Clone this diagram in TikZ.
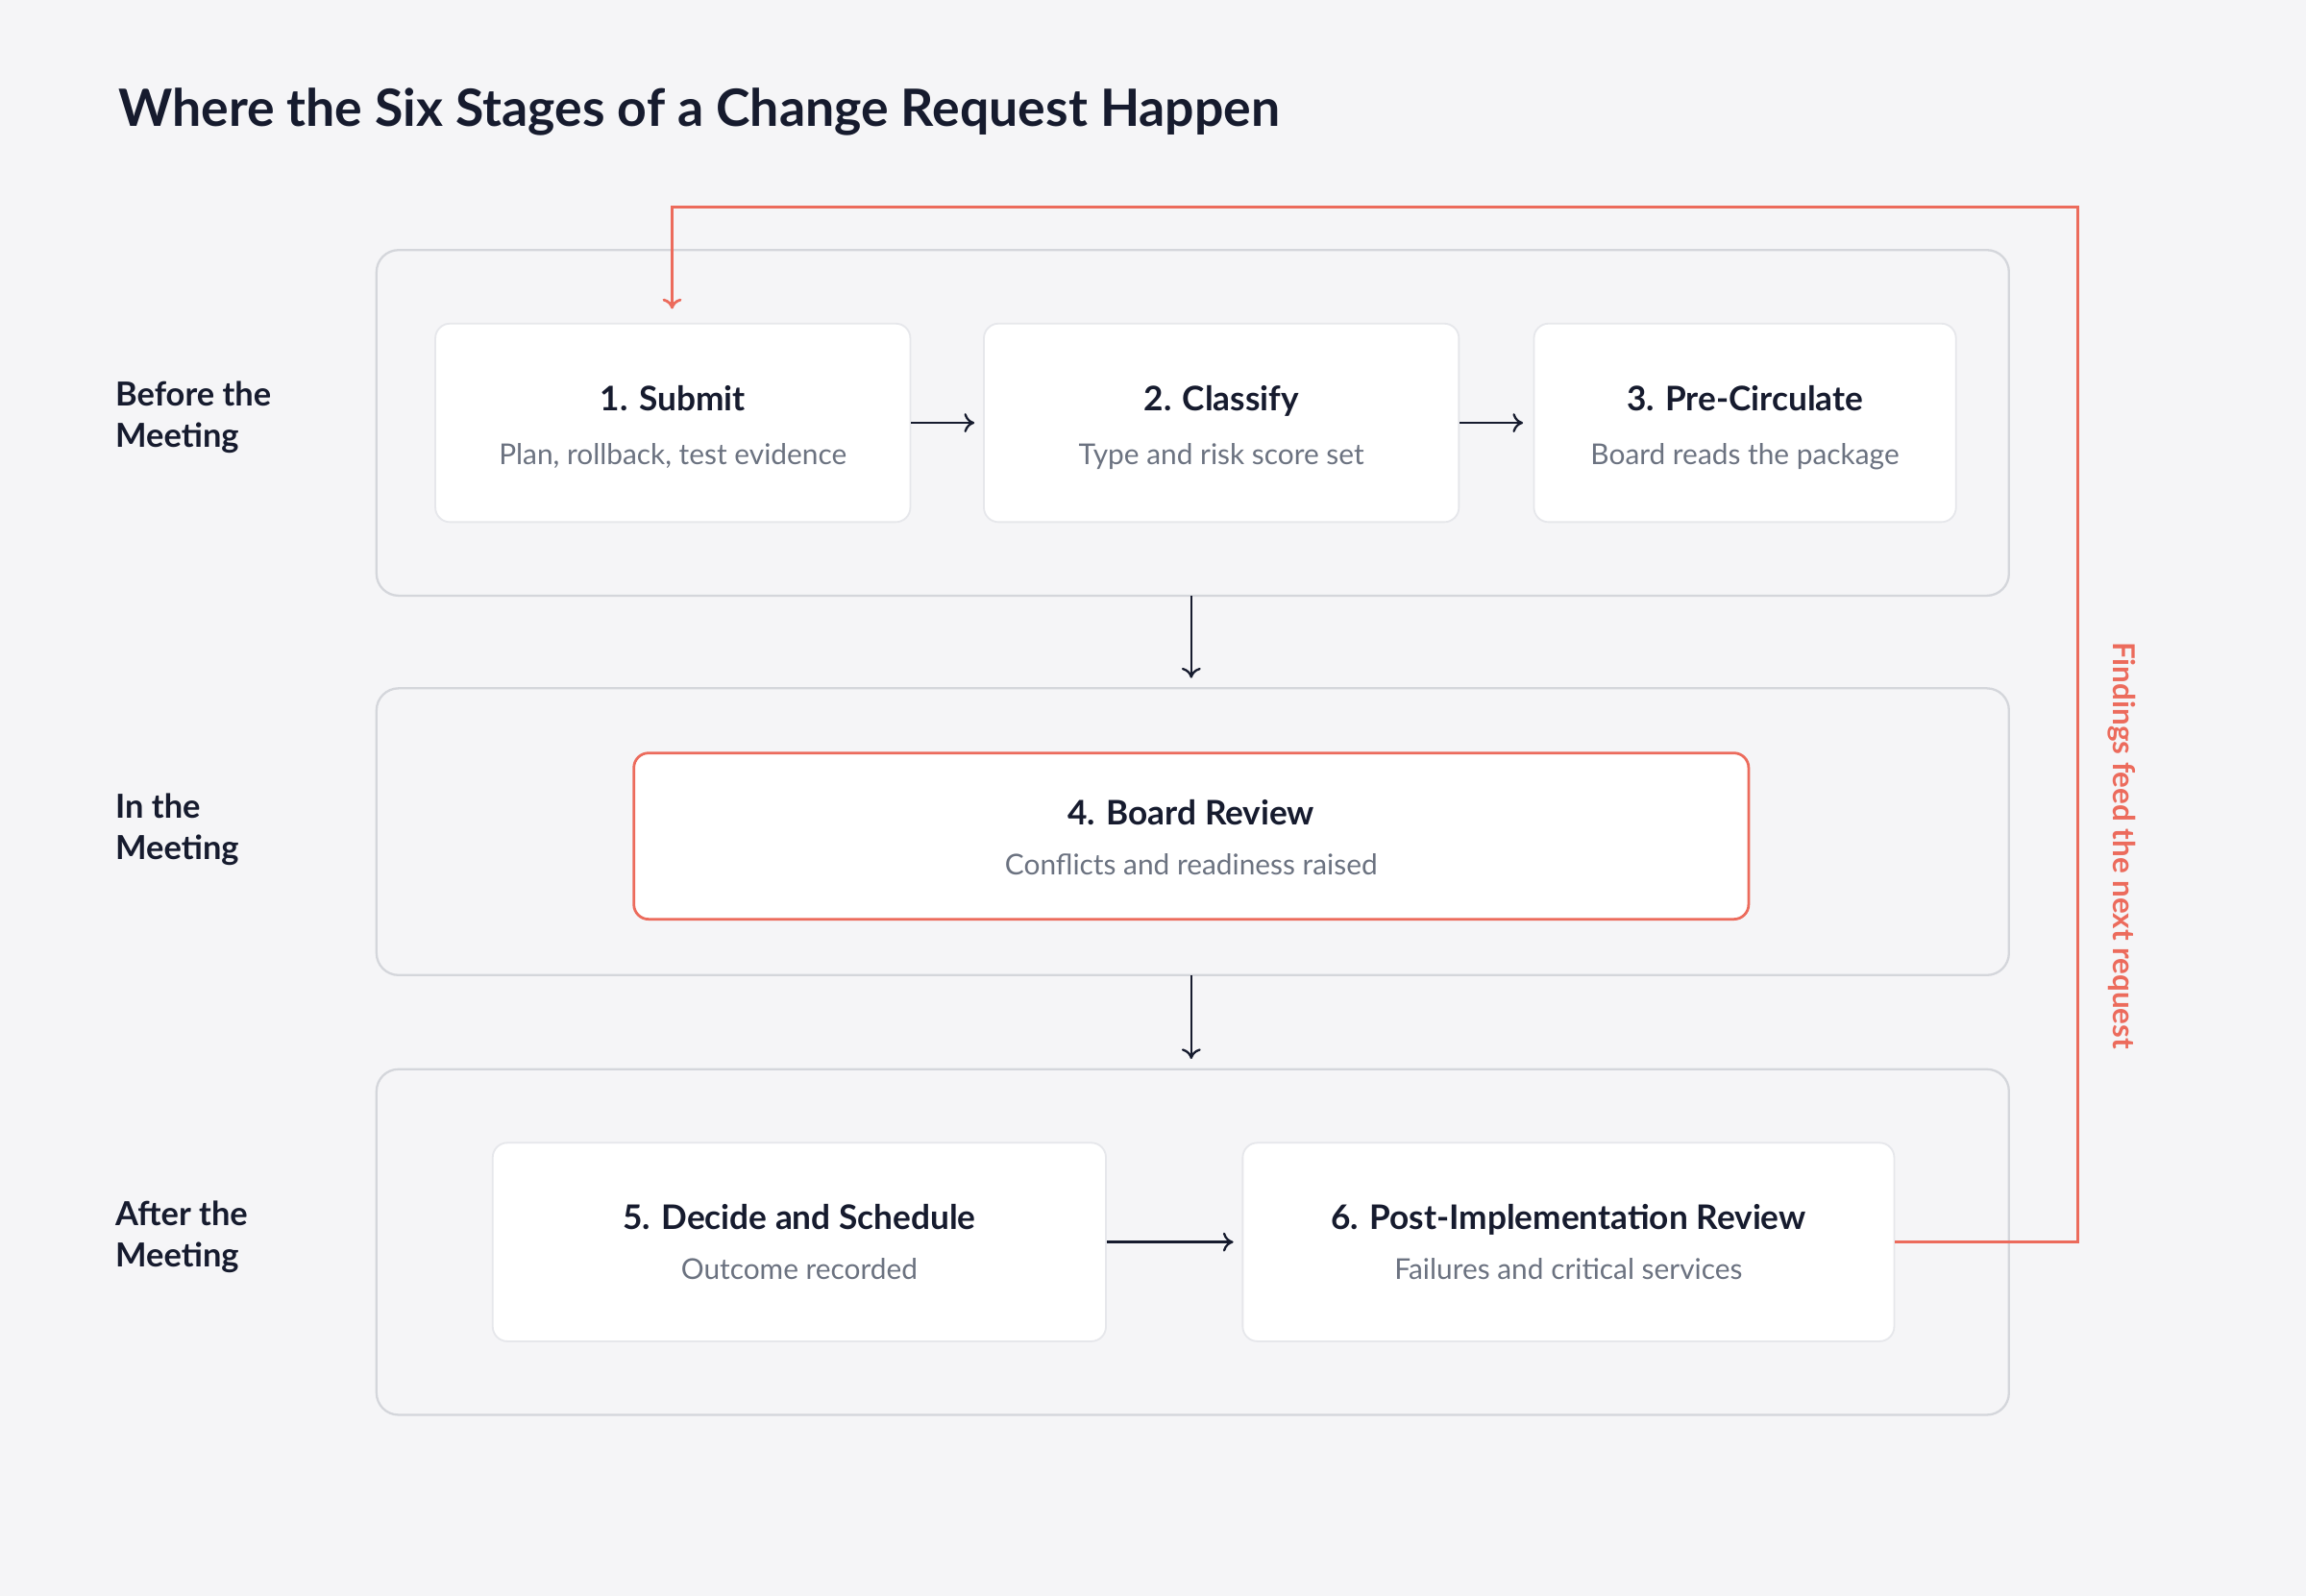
\documentclass[tikz,border=0pt]{standalone}
\usepackage{fontspec}
\setmainfont{Lato}
\usetikzlibrary{positioning,arrows.meta}
\definecolor{bgc}{HTML}{F5F5F7}
\definecolor{lanec}{HTML}{D4D6DB}
\definecolor{boxc}{HTML}{E6E7EB}
\definecolor{ink}{HTML}{161B2E}
\definecolor{sub}{HTML}{6B7280}
\definecolor{coral}{HTML}{EC6B5C}
\tikzset{
  lane/.style={draw=lanec, line width=1.5pt, rounded corners=15pt, fill=bgc},
  stage/.style={draw=boxc, line width=1.2pt, rounded corners=10pt, fill=white},
  hot/.style={draw=coral, line width=1.8pt, rounded corners=10pt, fill=white},
  ttl/.style={font=\fontsize{23}{26}\selectfont\bfseries, text=ink, anchor=base},
  sbt/.style={font=\fontsize{19.5}{22}\selectfont, text=sub, anchor=base},
  lbl/.style={font=\fontsize{22.5}{28}\selectfont\bfseries, text=ink, align=left, anchor=west},
  flow/.style={-{To[length=7pt,width=13pt]}, draw=ink, line width=1.5pt},
  back/.style={-{To[length=7pt,width=13pt]}, draw=coral, line width=1.8pt}
}
\begin{document}
\begin{tikzpicture}[x=1pt, y=-1pt]
    \fill[bgc] (0,0) rectangle (1568,1085);
    \useasboundingbox (0,0) rectangle (1568,1085);
    \node[anchor=base west, font=\fontsize{35}{40}\selectfont\bfseries, text=ink] (title) at (77,86) {Where the Six Stages of a Change Request Happen};

    % swim lanes
    \draw[lane] (256,170) rectangle (1366,405);
    \draw[lane] (256,468) rectangle (1366,663);
    \draw[lane] (256,727) rectangle (1366,962);
    \node[lbl] (before) at (75,284) {Before the\\Meeting};
    \node[lbl] (during) at (75,564) {In the\\Meeting};
    \node[lbl] (after) at (75,841) {After the\\Meeting};
    \coordinate (lane1s) at (810,405);
    \coordinate (lane2n) at (810,461);
    \coordinate (lane2s) at (810,663);
    \coordinate (lane3n) at (810,720);

    % stages
    \node[stage, minimum width=323pt, minimum height=135pt] (submit) at (457.5,287.5) {};
    \node[stage, minimum width=323pt, minimum height=135pt] (classify) at (830.5,287.5) {};
    \node[stage, minimum width=287pt, minimum height=135pt] (precirc) at (1186.5,287.5) {};
    \node[hot, minimum width=758pt, minimum height=113pt] (review) at (810,568.5) {};
    \node[stage, minimum width=417pt, minimum height=135pt] (decide) at (543.5,844.5) {};
    \node[stage, minimum width=443pt, minimum height=135pt] (pir) at (1066.5,844.5) {};

    \node[ttl] at (457.5,279) {1. Submit};
    \node[sbt] at (457.5,316) {Plan, rollback, test evidence};
    \node[ttl] at (830.5,279) {2. Classify};
    \node[sbt] at (830.5,316) {Type and risk score set};
    \node[ttl] at (1186.5,279) {3. Pre-Circulate};
    \node[sbt] at (1186.5,316) {Board reads the package};
    \node[ttl] at (810,561) {4. Board Review};
    \node[sbt] at (810,595) {Conflicts and readiness raised};
    \node[ttl] at (543.5,836) {5. Decide and Schedule};
    \node[sbt] at (543.5,870) {Outcome recorded};
    \node[ttl] at (1066.5,836) {6. Post-Implementation Review};
    \node[sbt] at (1066.5,870) {Failures and critical services};

    % connectors
    \draw[flow] (submit.east) -- ++(43,0);
    \draw[flow] (classify.east) -- ++(43,0);
    \draw[flow] (lane1s) -- (lane2n);
    \draw[flow] (lane2s) -- (lane3n);
    \draw[flow] (decide.east) -- ++(86,0);
    \coordinate (fbin) at (457,210);
    \draw[back] (pir.east) -- (1413,844.5) -- (1413,141) -- (457,141) -- (fbin);
    \node[rotate=-90, font=\fontsize{20.5}{22}\selectfont\bfseries, text=coral] (fbl) at (1443,575) {Findings feed the next request};
\end{tikzpicture}
\end{document}
